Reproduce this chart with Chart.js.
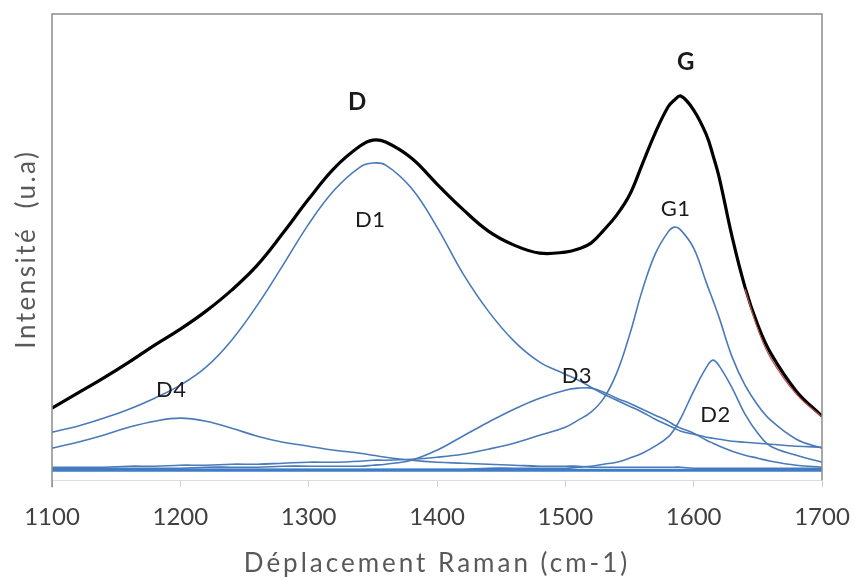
<!DOCTYPE html>
<html>
<head>
<meta charset="utf-8">
<title>Spectre Raman</title>
<script src="https://cdn.jsdelivr.net/npm/chart.js@4.4.1/dist/chart.umd.min.js"></script>
<style>
    html, body { margin: 0; padding: 0; background: #fff; overflow: hidden; }
    #wrap { width: 855px; height: 579px; }
</style>
</head>
<body>
<div id="wrap"><canvas id="ramanChart"></canvas></div>
<script>
// wavenumbers (cm-1), shared by all fitted curves
const shift = [1100, 1120, 1140, 1160, 1180, 1200, 1220, 1240, 1260, 1280, 1300, 1320, 1340, 1350, 1360,
    1380, 1400, 1420, 1440, 1460, 1480, 1500, 1510, 1520, 1530, 1540, 1550, 1560, 1570, 1580, 1585, 1590,
    1600, 1610, 1615, 1620, 1630, 1640, 1650, 1660, 1680, 1700];

// total fit (black)
const total = [72, 87, 102, 118, 135, 151, 169, 190, 215, 247, 281, 312, 334, 340, 338,
    322, 296, 271, 249, 235, 227, 228, 231, 237, 250, 265, 285, 316, 347, 373, 380, 384,
    370, 345, 325, 302, 243, 193, 155, 127, 89, 64];

const d1 = [48, 54, 62, 71, 82, 95, 113, 140, 175, 215, 256, 290, 313, 317, 315,
    292, 253, 207, 169, 139, 118, 106, 100, 93, 86, 80, 74, 68, 61, 55, 52, 49,
    46, 43, 42, 41, 39, 38, 37, 36, 34, 33];

const d2 = [11, 11, 11, 11, 11, 11, 11, 11, 11, 11, 11, 11, 11, 11, 11,
    11, 11, 11, 12, 12, 12, 12, 13, 14, 16, 18, 22, 27, 34, 43, 51, 62,
    89, 113, 120, 114, 92, 66, 47, 34, 25, 18];

const d3 = [12, 12, 12, 12, 12, 12, 13, 13, 13, 14, 14, 14, 14, 15, 16,
    20, 30, 44, 58, 71, 82, 90, 92, 92, 88, 82, 77, 71, 65, 59, 55, 52,
    47, 40, 37, 34, 29, 25, 22, 19, 15, 13];

const d4 = [32, 38, 45, 53, 59, 62, 59, 52, 44, 38, 34, 30, 27, 25, 23,
    20, 18, 17, 16, 15, 14, 14, 14, 13, 13, 13, 13, 13, 13, 13, 13, 13,
    12, 12, 12, 12, 12, 12, 12, 12, 12, 12];

const g1 = [13, 13, 13, 14, 14, 15, 15, 16, 16, 17, 18, 18, 19, 20, 20,
    21, 23, 26, 31, 37, 45, 53, 60, 68, 82, 107, 145, 190, 226, 248, 253, 250,
    232, 197, 180, 162, 123, 95, 75, 60, 41, 32];

const baselineX = [1100, 1700];
const baselineY = [10, 10];

// measured spectrum, only visible where it leaves the fit
const measuredX = [1640, 1650, 1660, 1680, 1700];
const measuredY = [191, 151, 122, 86, 63];

const xTicks = [1100, 1200, 1300, 1400, 1500, 1600, 1700];

const peakNames = ["D", "G", "D1", "G1", "D3", "D4", "D2"];
const peakLabelX = [1338, 1594, 1348, 1586, 1509, 1193, 1617];
const peakLabelY = [378, 418, 260, 271, 104, 90, 65];
const peakBold = [true, true, false, false, false, false, false];

const xTitle = "Déplacement Raman (cm-1)";
const yTitle = "Intensité  (u.a)";

function points(xs, ys) {
    return xs.map((x, i) => ({ x: x, y: ys[i] }));
}

const blue = "#4a7ab8";

function curve(label, ys, color, width) {
    return {
        label: label,
        data: points(shift, ys),
        borderColor: color,
        borderWidth: width,
        pointRadius: 0,
        fill: false,
        tension: 0.4
    };
}

// frame, axis titles and peak names
const labelPlugin = {
    id: "peakLabels",
    afterDraw(chart) {
        const c = chart.ctx;
        const xs = chart.scales.x;
        const ys = chart.scales.y;
        const area = chart.chartArea;

        c.save();
        c.strokeStyle = "#8c8c8c";
        c.lineWidth = 1.5;
        c.beginPath();
        c.moveTo(area.left, area.bottom + 7);
        c.lineTo(area.left, area.top);
        c.lineTo(area.right, area.top);
        c.lineTo(area.right, area.bottom);
        c.stroke();

        c.textAlign = "center";
        c.textBaseline = "middle";
        c.fillStyle = "#595959";
        c.font = "26px Lato";
        c.letterSpacing = "3px";
        c.fillText(xTitle, (area.left + area.right) / 2, area.bottom + 83);

        c.save();
        c.translate(27, (area.top + area.bottom) / 2 + 2);
        c.rotate(-Math.PI / 2);
        c.letterSpacing = "2.5px";
        c.fillText(yTitle, 0, 0);
        c.restore();

        c.letterSpacing = "0.5px";
        c.fillStyle = "#1a1a1a";
        peakNames.forEach((name, i) => {
            c.font = peakBold[i] ? "bold 24px Lato" : "22px Lato";
            c.fillText(name, xs.getPixelForValue(peakLabelX[i]), ys.getPixelForValue(peakLabelY[i]));
        });
        c.restore();
    }
};

const ctx = document.getElementById("ramanChart");

new Chart(ctx, {
    type: "line",
    data: {
        datasets: [
            {
                label: "Baseline",
                data: points(baselineX, baselineY),
                borderColor: "#3d7cc9",
                borderWidth: 3,
                pointRadius: 0
            },
            curve("D4", d4, blue, 1.6),
            curve("D3", d3, blue, 1.6),
            curve("D2", d2, blue, 1.6),
            curve("G1", g1, blue, 1.6),
            curve("D1", d1, blue, 1.6),
            {
                label: "Mesure",
                data: points(measuredX, measuredY),
                borderColor: "#c0504d",
                borderWidth: 1.2,
                pointRadius: 0,
                tension: 0.4
            },
            curve("Total", total, "#000000", 3.2)
        ]
    },
    options: {
        responsive: true,
        maintainAspectRatio: false,
        animation: false,
        layout: { padding: { left: 52, top: 14, right: 33, bottom: 31 } },
        plugins: {
            legend: { display: false },
            tooltip: { enabled: false }
        },
        scales: {
            x: {
                type: "linear",
                min: 1100,
                max: 1700,
                afterBuildTicks: axis => {
                    axis.ticks = xTicks.map(v => ({ value: v }));
                },
                // keep the plot edges where the layout padding puts them
                afterFit: axis => {
                    axis.paddingLeft = 0;
                    axis.paddingRight = 0;
                },
                ticks: {
                    color: "#404040",
                    font: { family: "Lato", size: 24 },
                    padding: 16,
                    maxRotation: 0,
                    callback: value => String(value)
                },
                grid: {
                    display: true,
                    drawOnChartArea: false,
                    drawTicks: true,
                    tickLength: 7,
                    color: "#cfcfcf"
                },
                border: { display: true, color: "#dcdcdc" }
            },
            y: {
                display: false,
                min: 0,
                max: 466
            }
        }
    },
    plugins: [labelPlugin]
});
</script>
</body>
</html>
